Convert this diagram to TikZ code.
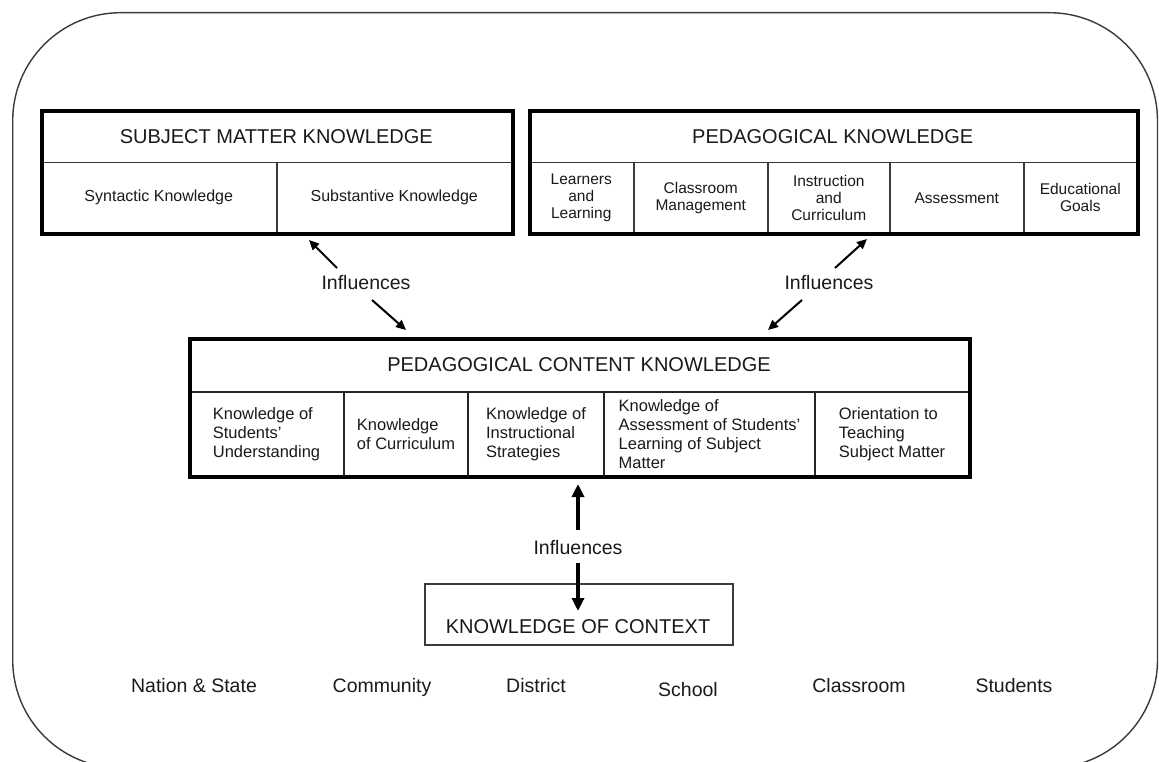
\documentclass[tikz,border=0pt]{standalone}
\usepackage{fontspec}
\setmainfont{Liberation Sans}
\usetikzlibrary{arrows.meta}

\definecolor{ink}{HTML}{1A1A1A}
\definecolor{rule}{HTML}{3A3A3A}

\tikzset{
  frame/.style={draw=rule, line width=1.4pt, rounded corners=108pt},
  outerbox/.style={draw=black, line width=3.8pt, inner sep=0pt, anchor=north west},
  cell/.style={draw=rule, line width=1.5pt, inner sep=0pt, anchor=north west, text=ink},
  pckcell/.style={draw=black!85, line width=2pt, inner sep=0pt, anchor=north west, text=ink},
  ctxbox/.style={draw=rule, line width=1.6pt, inner sep=0pt, anchor=north west},
  hdr/.style={font=\fontsize{20}{24}\selectfont},
  smktext/.style={font=\fontsize{16}{19}\selectfont, align=center},
  pktext/.style={font=\fontsize{15.5}{17}\selectfont, align=center},
  pcktext/.style={font=\fontsize{16.5}{19}\selectfont, align=left},
  lbl/.style={font=\fontsize{19.5}{23}\selectfont, text=ink, inner sep=0pt},
  level/.style={lbl, anchor=base},
  infl/.style={-{Triangle[length=10pt,width=9pt]}, line width=2pt, draw=black},
  bigarrow/.style={-{Triangle[length=13pt,width=12pt]}, line width=3.2pt, draw=black}
}

\begin{document}
\begin{tikzpicture}[x=1pt, y=-1pt]
  \useasboundingbox (0,0) rectangle (1159,762);
  \clip (0,0) rectangle (1159,762);
  \fill[white] (0,0) rectangle (1159,762);

  % surrounding context frame
  \draw[frame] (12.7,12.7) rectangle (1157.5,768);

  % ---------- Subject matter knowledge ----------
  \node[cell, hdr, minimum width=471pt, minimum height=53pt] (smkh) at (40,109) {SUBJECT MATTER KNOWLEDGE};
  \node[cell, smktext, minimum width=236pt, minimum height=70pt] (smk1) at (40,162) {Syntactic Knowledge};
  \node[cell, smktext, minimum width=235pt, minimum height=70pt] (smk2) at (276,162) {Substantive Knowledge};
  \node[outerbox, minimum width=471pt, minimum height=123pt] (smk) at (40,109) {};

  % ---------- Pedagogical knowledge ----------
  \node[cell, hdr, minimum width=608pt, minimum height=53pt] (pkh) at (528,109) {PEDAGOGICAL KNOWLEDGE};
  \node[cell, pktext, minimum width=105pt, minimum height=70pt] (pk1) at (528,162) {Learners\\and\\Learning};
  \node[cell, pktext, minimum width=134pt, minimum height=70pt] (pk2) at (633,162) {Classroom\\Management};
  \node[cell, pktext, minimum width=122pt, minimum height=70pt] (pk3) at (767,162) {Instruction\\and\\Curriculum};
  \node[cell, pktext, minimum width=134pt, minimum height=70pt] (pk4) at (889,162) {Assessment};
  \node[cell, pktext, minimum width=113pt, minimum height=70pt] (pk5) at (1023,162) {Educational\\Goals};
  \node[outerbox, minimum width=608pt, minimum height=123pt] (pk) at (528,109) {};

  % ---------- Pedagogical content knowledge ----------
  \node[pckcell, hdr, minimum width=780pt, minimum height=54pt] (pckh) at (188,337) {PEDAGOGICAL CONTENT KNOWLEDGE};
  \node[pckcell, pcktext, minimum width=155pt, minimum height=84pt] (pck1) at (188,391) {Knowledge of\\Students'\\Understanding};
  \node[pckcell, pcktext, minimum width=124pt, minimum height=84pt] (pck2) at (343,391) {Knowledge\\of Curriculum};
  \node[pckcell, pcktext, minimum width=136pt, minimum height=84pt] (pck3) at (467,391) {Knowledge of\\Instructional\\Strategies};
  \node[pckcell, pcktext, minimum width=211pt, minimum height=84pt] (pck4) at (603,391) {Knowledge of\\Assessment of Students'\\Learning of Subject\\Matter};
  \node[pckcell, pcktext, minimum width=154pt, minimum height=84pt] (pck5) at (814,391) {Orientation to\\Teaching\\Subject Matter};
  \node[outerbox, minimum width=780pt, minimum height=138pt] (pck) at (188,337) {};

  % ---------- Knowledge of context ----------
  \node[ctxbox, minimum width=308pt, minimum height=61pt] (koc) at (424,583) {};
  \node[hdr, text=ink, inner sep=0pt] (koct) at (578,627) {KNOWLEDGE OF CONTEXT};

  % ---------- influence labels ----------
  \node[lbl] (inf1) at (366,283) {Influences};
  \node[lbl] (inf2) at (829,283) {Influences};
  \node[lbl] (inf3) at (578,548) {Influences};

  % arrow end points
  \coordinate (a1s) at (337,268); \coordinate (a1e) at (309,240);
  \coordinate (a2s) at (372,300); \coordinate (a2e) at (406,330);
  \coordinate (a3s) at (835,268); \coordinate (a3e) at (867,239);
  \coordinate (a4s) at (802,300); \coordinate (a4e) at (768,330);
  \coordinate (a5s) at (578,530); \coordinate (a5e) at (578,484);
  \coordinate (a6s) at (578,563); \coordinate (a6e) at (578,611);

  \draw[infl] (a1s) -- (a1e);
  \draw[infl] (a2s) -- (a2e);
  \draw[infl] (a3s) -- (a3e);
  \draw[infl] (a4s) -- (a4e);
  \draw[bigarrow] (a5s) -- (a5e);
  \draw[bigarrow] (a6s) -- (a6e);

  % ---------- levels of context ----------
  \node[level] (lv1) at (194,692) {Nation \& State};
  \node[level] (lv2) at (382,692) {Community};
  \node[level] (lv3) at (536,692) {District};
  \node[level] (lv4) at (688,696) {School};
  \node[level] (lv5) at (859,692) {Classroom};
  \node[level] (lv6) at (1014,692) {Students};
\end{tikzpicture}
\end{document}
